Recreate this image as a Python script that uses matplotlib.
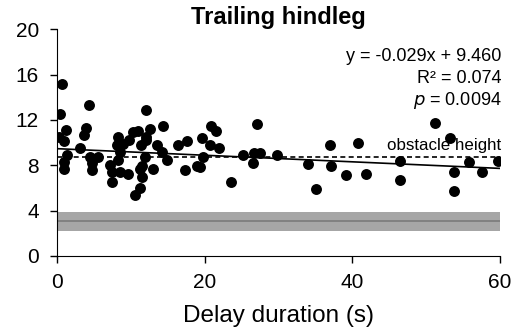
import matplotlib
matplotlib.use('Agg')
import matplotlib.pyplot as plt
import numpy as np

plt.rcParams['font.family'] = ['Liberation Sans', 'DejaVu Sans']

# Delay duration (s) and trailing hindleg clearance
delay = [0.7, 0.4, 1.2, 0.3, 1.0, 3.1, 1.3, 1.0, 1.0, 4.3, 3.9, 3.7, 4.5, 4.8, 4.7, 5.6,
         8.3, 9.0, 8.1, 8.5, 8.3, 7.2, 7.4, 7.4, 8.5, 9.6, 9.7,
         12.1, 14.3, 12.6, 11.0, 10.3, 12.1, 13.5, 14.2, 14.9, 13.0, 11.2, 11.5, 11.2,
         10.6, 11.4, 11.9, 11.5, 12.1,
         16.4, 17.6, 17.3, 18.9, 19.7, 19.8, 20.8, 21.6, 20.7, 22.0, 19.4,
         23.5, 25.2, 26.7, 27.5, 26.6, 27.1, 29.8,
         34.0, 35.1, 37.0, 37.1, 39.2, 40.8, 41.8,
         46.5, 46.5, 51.2, 53.2, 53.7, 53.8, 55.8, 57.5, 59.7]
height = [15.2, 12.5, 11.1, 10.5, 10.1, 9.5, 8.9, 8.3, 7.7, 13.3, 11.3, 10.7, 8.75, 8.2, 7.6, 8.75,
          10.5, 9.9, 9.8, 9.2, 8.5, 8.0, 7.4, 6.5, 7.4, 7.2, 10.2,
          12.9, 11.5, 11.2, 11.0, 10.9, 10.5, 9.8, 9.2, 8.5, 7.7, 7.7, 7.0, 6.0,
          5.4, 9.8, 8.75, 7.9, 10.2,
          9.8, 10.1, 7.6, 7.9, 10.4, 8.75, 11.5, 11.0, 9.8, 9.5, 7.8,
          6.5, 8.9, 9.1, 9.1, 8.2, 11.6, 8.9,
          8.1, 5.9, 9.8, 7.9, 7.1, 10.0, 7.2,
          8.4, 6.7, 11.7, 10.4, 7.4, 5.7, 8.3, 7.4, 8.4]

slope = -0.029
intercept = 9.460
obstacle = 8.7
band_low, band_mid, band_high = 2.2, 3.1, 3.9

fig = plt.figure(figsize=(5.27, 3.35), dpi=100)
ax = fig.add_axes([0.108, 0.236, 0.841, 0.677])

# grey reference band
ax.axhspan(band_low, band_high, color='#a6a6a6', lw=0, zorder=1)
ax.axhline(band_mid, color='#7a7a7a', lw=1.2, zorder=2)

ax.scatter(delay, height, s=62, color='black', zorder=3, linewidths=0)

xs = np.array([0, 60])
ax.plot(xs, slope * xs + intercept, color='black', lw=1.2, zorder=4)
ax.axhline(obstacle, color='black', lw=1.2, ls=(0, (3, 2)), zorder=4)

# annotations, right-aligned just past the axis end
tx = 60.2
ax.text(tx, 9.3, 'obstacle height', ha='right', va='baseline', fontsize=12.2, zorder=5)
ax.text(tx, 17.15, 'y = -0.029x + 9.460', ha='right', va='baseline', fontsize=13)
ax.text(tx, 15.25, 'R² = 0.074', ha='right', va='baseline', fontsize=13)
ax.text(tx, 13.3, '$\\it{p}$ = 0.0094', ha='right', va='baseline', fontsize=13)

ax.set_xlim(0, 60)
ax.set_ylim(0, 20)
ax.set_xticks([0, 20, 40, 60])
ax.set_yticks([0, 4, 8, 12, 16, 20])
ax.tick_params(labelsize=15, direction='out', length=5, width=1)
ax.tick_params(axis='x', pad=7)
ax.tick_params(axis='y', pad=8)
ax.spines['top'].set_visible(False)
ax.spines['right'].set_visible(False)
ax.set_title('Trailing hindleg', fontsize=17, fontweight='bold', pad=1)
ax.set_xlabel('Delay duration (s)', fontsize=17.5, labelpad=10)

fig.savefig('out.png', dpi=100)
